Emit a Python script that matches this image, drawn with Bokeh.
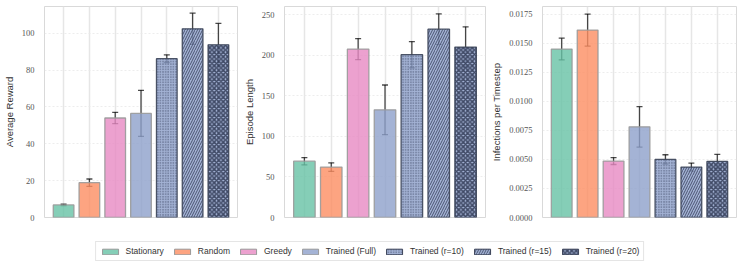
from bokeh.plotting import figure
from bokeh.models import (ColumnDataSource, Whisker, TeeHead, FixedTicker, NumeralTickFormatter,
                          Legend, LegendItem, Range1d)
from bokeh.layouts import column, row
from bokeh.embed import file_html
from bokeh.resources import INLINE

methods = ["Stationary", "Random", "Greedy", "Trained (Full)",
           "Trained (r=10)", "Trained (r=15)", "Trained (r=20)"]
reward_mean = [6.8, 18.9, 54.0, 56.5, 86.2, 102.4, 93.7]
reward_err = [0.4, 2.0, 3.1, 12.5, 2.1, 8.5, 11.6]
length_mean = [69.4, 62.1, 207.5, 132.7, 200.6, 232.0, 210.0]
length_err = [4.5, 5.3, 13.0, 30.6, 16.2, 19.0, 25.0]
inf_mean = [0.01450, 0.01613, 0.00486, 0.00780, 0.00500, 0.00434, 0.00483]
inf_err = [0.00093, 0.00138, 0.00030, 0.00174, 0.00040, 0.00034, 0.00060]

reward_ticks = [0, 20, 40, 60, 80, 100]
length_ticks = [0, 50, 100, 150, 200, 250]
inf_ticks = [0.0, 0.0025, 0.005, 0.0075, 0.01, 0.0125, 0.015, 0.0175]

colors = ["#66c2a5", "#fc8d62", "#e78ac3", "#8da0cb", "#8da0cb", "#8da0cb", "#8da0cb"]
hatches = [" ", " ", " ", " ", ".", "/", "x"]
hatch_scales = [4, 4, 4, 4, 2.6, 5.0, 4.5]
hatch_weights = [1, 1, 1, 1, 1.0, 0.9, 1.6]
edges = ["#999999", "#999999", "#999999", "#999999", "#3a4257", "#3a4257", "#3a4257"]

xs = list(range(len(methods)))
FRAME_W = 208


def panel(means, errs, ticks, label, ymax, left, fmt=None):
    src = ColumnDataSource(dict(
        x=xs, top=means, color=colors, hatch=hatches, edge=edges,
        hs=hatch_scales, hw=hatch_weights,
        upper=[m + e for m, e in zip(means, errs)],
        lower=[m - e for m, e in zip(means, errs)],
    ))
    p = figure(width=left + FRAME_W + 3, height=6 + 211 + 4,
               min_border_left=left, min_border_right=3, min_border_top=6, min_border_bottom=4,
               x_range=Range1d(-0.74, 6.74), y_range=Range1d(0, ymax),
               x_axis_location=None, output_backend="svg", toolbar_location=None)
    p.vbar(x="x", top="top", width=0.8, source=src, fill_color="color", fill_alpha=0.8,
           line_color="edge", line_width=1.3, line_alpha=0.9,
           hatch_pattern="hatch", hatch_color="#27304a", hatch_alpha=0.8,
           hatch_scale="hs", hatch_weight="hw")
    w = Whisker(base="x", upper="upper", lower="lower", source=src, dimension="height",
                line_color="black", line_alpha=0.7, line_width=1.3,
                upper_head=TeeHead(size=6, line_color="black", line_alpha=0.7, line_width=1.3),
                lower_head=TeeHead(size=6, line_color="black", line_alpha=0.7, line_width=1.3))
    p.add_layout(w)
    p.xgrid.ticker = FixedTicker(ticks=xs)
    p.xgrid.grid_line_color = "#e6e6e6"
    p.xgrid.grid_line_width = 1.5
    p.ygrid.grid_line_color = "#e8e8e8"
    p.ygrid.grid_line_dash = "2 2"
    p.ygrid.grid_line_width = 0.8
    ax = p.yaxis[0]
    ax.ticker = FixedTicker(ticks=ticks)
    if fmt:
        ax.formatter = NumeralTickFormatter(format=fmt)
    ax.axis_label = label
    ax.axis_label_text_font = "Liberation Sans"
    ax.axis_label_text_font_size = "9.5px"
    ax.axis_label_text_font_style = "normal"
    ax.axis_label_text_color = "#333333"
    ax.axis_label_standoff = 4
    ax.major_label_text_font = "Liberation Serif"
    ax.major_label_text_font_size = "8.5px"
    ax.major_label_text_color = "#555555"
    ax.major_label_standoff = 4
    ax.axis_line_color = None
    ax.major_tick_line_color = None
    ax.minor_tick_line_color = None
    p.outline_line_color = "#d9d9d9"
    p.outline_line_width = 1
    p.background_fill_color = "white"
    p.border_fill_color = "white"
    return p


p1 = panel(reward_mean, reward_err, reward_ticks, "Average Reward", 114.5, 29)
p2 = panel(length_mean, length_err, length_ticks, "Episode Length", 260, 37)
p3 = panel(inf_mean, inf_err, inf_ticks, "Infections per Timestep", 0.01816, 40, "0.0000")

total_w = p1.width + p2.width + p3.width
lg = figure(width=total_w, height=42, x_range=Range1d(0, 1), y_range=Range1d(0, 1),
            x_axis_location=None, y_axis_location=None, output_backend="svg",
            toolbar_location=None, min_border=0)
lg.outline_line_color = None
lg.xgrid.visible = False
lg.ygrid.visible = False
items = []
for i, m in enumerate(methods):
    r = lg.vbar(x=[5], top=[5], bottom=[4], width=0.8, fill_color=colors[i], fill_alpha=0.8,
                line_color=edges[i], line_width=1.0, hatch_pattern=hatches[i],
                hatch_color="#27304a", hatch_alpha=0.8, hatch_scale=hatch_scales[i],
                hatch_weight=hatch_weights[i])
    items.append(LegendItem(label=m, renderers=[r]))
leg = Legend(items=items, orientation="horizontal", location="bottom_center",
             label_text_font="Liberation Sans", label_text_font_size="8.5px",
             label_text_color="#333333", glyph_width=20, glyph_height=7,
             label_standoff=6, spacing=8, padding=4, margin=2,
             border_line_color="#cccccc", border_line_width=1,
             background_fill_alpha=1.0, label_height=10)
lg.add_layout(leg, "center")

layout = column(row(p1, p2, p3), lg)
open("out.html", "w").write(file_html(layout, INLINE))
